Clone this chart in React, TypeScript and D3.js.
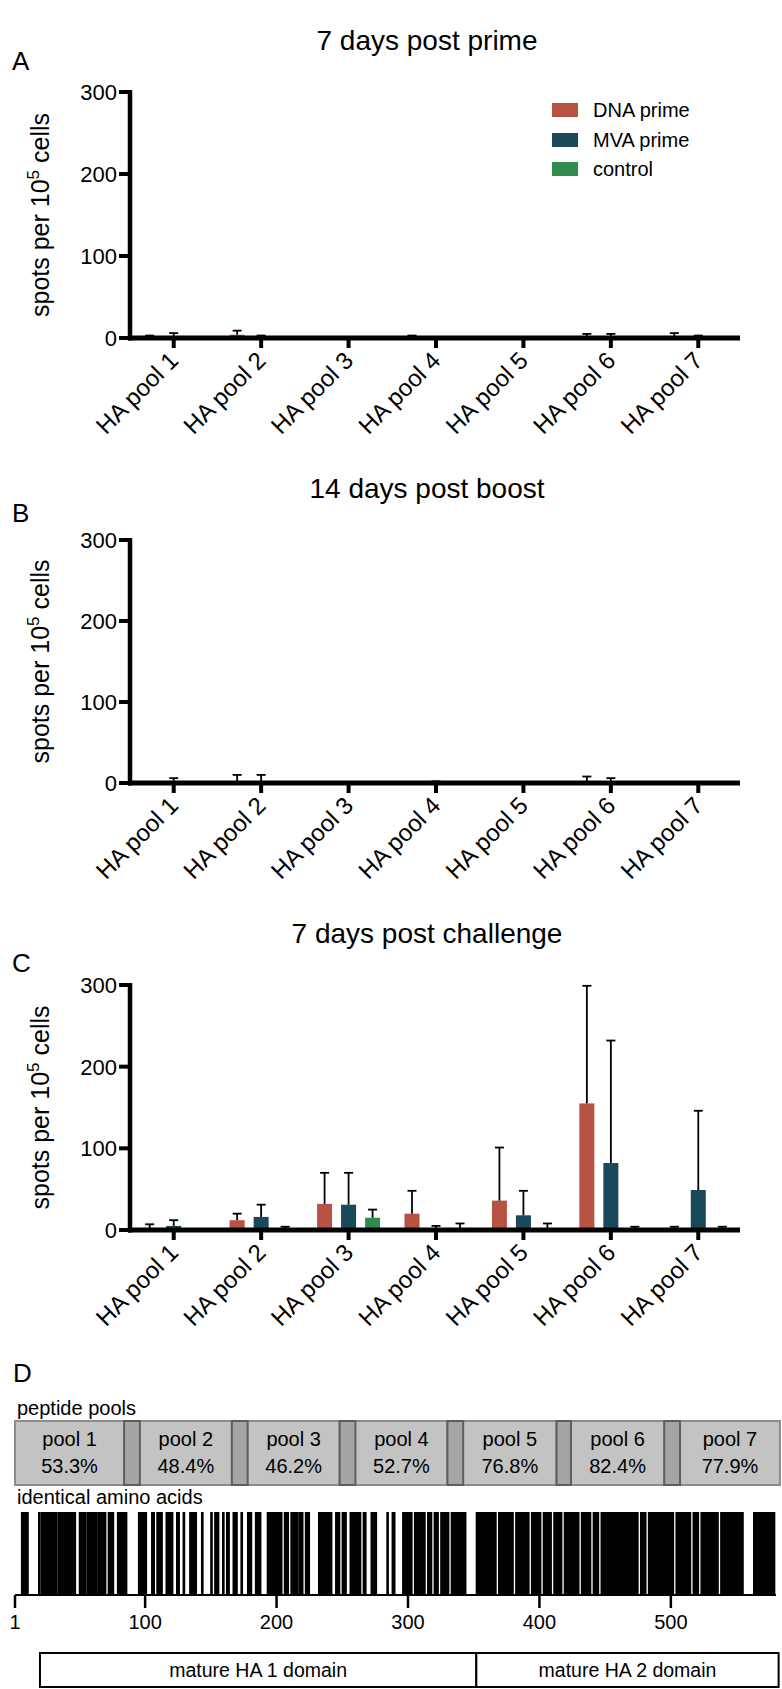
import React from 'react';
import * as d3 from 'd3';

// ---------- data ----------
const categories = ['HA pool 1', 'HA pool 2', 'HA pool 3', 'HA pool 4', 'HA pool 5', 'HA pool 6', 'HA pool 7'];
const seriesNames = ['DNA prime', 'MVA prime', 'control'];
const seriesColors = ['#B75343', '#1A4A5A', '#308C4E'];
const yTicks = [0, 100, 200, 300];

// A: 7 days post prime
const primeDNA = [1, 4, 0, 1, 0, 1, 1];
const primeDNAErr = [2, 5, 0, 2, 1, 4, 5];
const primeMVA = [1, 1, 0, 0, 0, 1, 0];
const primeMVAErr = [5, 2, 0, 1, 0, 4, 3];
const primeCtrl = [0, 0, 0, 0, 0, 0, 0];
const primeCtrlErr = [0, 0, 0, 0, 0, 0, 0];

// B: 14 days post boost
const boostDNA = [0, 2, 0, 0, 0, 1, 0];
const boostDNAErr = [0, 8, 0, 0, 0, 7, 0];
const boostMVA = [1, 0, 0, 1, 0, 0, 0];
const boostMVAErr = [5, 10, 0, 1, 0, 6, 0];
const boostCtrl = [0, 0, 0, 0, 0, 0, 0];
const boostCtrlErr = [0, 0, 0, 0, 0, 0, 0];

// C: 7 days post challenge
const challengeDNA = [1, 12, 32, 20, 36, 155, 0];
const challengeDNAErr = [6, 8, 38, 28, 65, 144, 4];
const challengeMVA = [5, 16, 31, 0, 18, 82, 49];
const challengeMVAErr = [7, 15, 39, 5, 30, 150, 97];
const challengeCtrl = [0, 0, 15, 0, 1, 0, 0];
const challengeCtrlErr = [0, 4, 10, 8, 7, 4, 4];

const panelTitles = ['7 days post prime', '14 days post boost', '7 days post challenge'];
const panelLetters = ['A', 'B', 'C'];

// D: peptide pools / identity
const poolLabels = ['pool 1', 'pool 2', 'pool 3', 'pool 4', 'pool 5', 'pool 6', 'pool 7'];
const poolIdentity = ['53.3%', '48.4%', '46.2%', '52.7%', '76.8%', '82.4%', '77.9%'];
const poolStart = [1, 84, 166, 248, 330, 413, 495];
const poolEnd = [96, 178, 260, 342, 424, 507, 583];
const aaTicks = [1, 100, 200, 300, 400, 500];
const domainNames = ['mature HA 1 domain', 'mature HA 2 domain'];
const domainStart = [20, 352];
const domainEnd = [352, 582];
const identicalRuns: [number, number][] = [
  [6, 11], [19, 20], [21, 33], [34, 37], [38, 47], [50, 55], [56, 63], [64, 70], [72, 76], [79, 86],
  [95, 101], [105, 107], [109, 113], [116, 121], [124, 126], [129, 130], [134, 139], [143, 144],
  [150, 151], [153, 156], [159, 160], [162, 164], [167, 170], [173, 174], [178, 181], [184, 188],
  [193, 204], [206, 209], [211, 216], [217, 220], [222, 225], [232, 242], [245, 248], [250, 253],
  [256, 264], [266, 268], [272, 276], [284, 285], [288, 290],
  [296, 303], [305, 313], [315, 318], [320, 323], [325, 331], [333, 344],
  [352, 367], [369, 380], [382, 392], [394, 401], [403, 409], [411, 417], [419, 430], [432, 439],
  [441, 445], [447, 475], [477, 481], [483, 502], [504, 515], [517, 521], [523, 536], [538, 555],
  [563, 579],
];

// ---------- layout ----------
const FONT = 'Liberation Sans, Arial, Helvetica, sans-serif';
const W = 782;
const H = 1689;
const panelGeom = [
  { top: 92, zero: 338, title: 50, letter: 70 },
  { top: 540, zero: 783, title: 498, letter: 522 },
  { top: 985, zero: 1230, title: 943, letter: 972 },
];

function BarPanel({ idx, means, errs }: { idx: number; means: number[][]; errs: number[][] }) {
  const g = panelGeom[idx];
  const y = d3.scaleLinear().domain([0, 300]).range([g.zero, g.top]);
  const x0 = d3.scaleBand<string>().domain(categories).range([130, 742]).padding(0);
  const x1 = d3.scaleBand<string>().domain(seriesNames).range([-31.5, 31.5]).paddingInner(0.375).paddingOuter(0);
  const bw = x1.bandwidth();
  const cx = (c: string) => (x0(c) as number) + x0.bandwidth() / 2;
  const midY = (g.top + g.zero) / 2;
  return (
    <g>
      <text x={427} y={g.title} fontSize={28} textAnchor="middle" fontFamily={FONT}>{panelTitles[idx]}</text>
      <text x={12} y={g.letter} fontSize={26} fontFamily={FONT}>{panelLetters[idx]}</text>
      {seriesNames.map((s, si) =>
        categories.map((c, ci) => {
          const v = means[si][ci];
          const xb = cx(c) + (x1(s) as number);
          return <rect key={`b${si}-${ci}`} x={xb} y={y(v)} width={bw} height={Math.max(0, g.zero - y(v))} fill={seriesColors[si]} />;
        })
      )}
      {seriesNames.map((s, si) =>
        categories.map((c, ci) => {
          const v = means[si][ci];
          const e = errs[si][ci];
          if (e <= 0) return null;
          const xm = cx(c) + (x1(s) as number) + bw / 2;
          return (
            <g key={`e${si}-${ci}`} stroke="#000" strokeWidth={1.8}>
              <line x1={xm} x2={xm} y1={y(v)} y2={y(v + e)} />
              <line x1={xm - 4.5} x2={xm + 4.5} y1={y(v + e)} y2={y(v + e)} />
            </g>
          );
        })
      )}
      <line x1={130} x2={130} y1={g.top - 2} y2={g.zero + 2.5} stroke="#000" strokeWidth={4.5} />
      {yTicks.map((t) => (
        <g key={`yt${t}`}>
          <line x1={119} x2={130} y1={y(t)} y2={y(t)} stroke="#000" strokeWidth={4} />
          <text x={117} y={y(t)} dy="0.36em" fontSize={22} textAnchor="end" fontFamily={FONT}>{t}</text>
        </g>
      ))}
      <text transform={`translate(49,${midY}) rotate(-90)`} fontSize={25} textAnchor="middle" fontFamily={FONT}>
        spots per 10<tspan dy={-10} fontSize={17}>5</tspan><tspan dy={10}> cells</tspan>
      </text>
      <line x1={128} x2={740} y1={g.zero} y2={g.zero} stroke="#000" strokeWidth={5} />
      {categories.map((c) => (
        <g key={`xt${c}`}>
          <line x1={cx(c)} x2={cx(c)} y1={g.zero} y2={g.zero + 10} stroke="#000" strokeWidth={4} />
          <text transform={`translate(${cx(c) + 6},${g.zero + 24}) rotate(-45)`} fontSize={24} textAnchor="end" fontFamily={FONT}>{c}</text>
        </g>
      ))}
    </g>
  );
}

function Legend() {
  const rows = [103, 133, 162];
  return (
    <g>
      {seriesNames.map((s, i) => (
        <g key={s}>
          <rect x={552} y={rows[i]} width={26} height={14} fill={seriesColors[i]} />
          <text x={593} y={rows[i] + 7} dy="0.36em" fontSize={20} fontFamily={FONT}>{s}</text>
        </g>
      ))}
    </g>
  );
}

function PanelD() {
  const xa = d3.scaleLinear().domain([1, 580]).range([15, 776]);
  const poolTop = 1421;
  const poolBot = 1485;
  const barTop = 1512;
  const barBot = 1595;
  const domTop = 1653;
  const domBot = 1687;
  return (
    <g fontFamily={FONT}>
      <text x={13} y={1382} fontSize={26}>D</text>
      <text x={17} y={1415} fontSize={20}>peptide pools</text>
      {poolLabels.map((p, i) => (
        <rect key={`p${i}`} x={xa(poolStart[i])} y={poolTop} width={xa(poolEnd[i]) - xa(poolStart[i])} height={poolBot - poolTop}
          fill="#c3c3c3" stroke="#8c8c8c" strokeWidth={2} />
      ))}
      {poolLabels.slice(0, -1).map((p, i) => (
        <rect key={`o${i}`} x={xa(poolStart[i + 1])} y={poolTop} width={xa(poolEnd[i]) - xa(poolStart[i + 1])} height={poolBot - poolTop}
          fill="#a5a5a5" stroke="#5e5e5e" strokeWidth={2} />
      ))}
      {poolLabels.map((p, i) => {
        const a = i === 0 ? poolStart[0] : poolEnd[i - 1];
        const b = i === poolLabels.length - 1 ? poolEnd[i] : poolStart[i + 1];
        const cx = (xa(a) + xa(b)) / 2;
        return (
          <g key={`pt${i}`}>
            <text x={cx} y={1446} fontSize={20} textAnchor="middle">{p}</text>
            <text x={cx} y={1473} fontSize={20} textAnchor="middle">{poolIdentity[i]}</text>
          </g>
        );
      })}
      <text x={17} y={1504} fontSize={20}>identical amino acids</text>
      {identicalRuns.map(([s, e], i) => (
        <rect key={`r${i}`} x={xa(s - 0.5)} y={barTop} width={xa(e + 0.5) - xa(s - 0.5)} height={barBot - barTop} fill="#000" />
      ))}
      <line x1={xa(1)} x2={xa(580)} y1={barBot} y2={barBot} stroke="#000" strokeWidth={2} />
      {aaTicks.map((t) => (
        <g key={`at${t}`}>
          <line x1={xa(t)} x2={xa(t)} y1={barBot} y2={barBot + 13} stroke="#000" strokeWidth={2.5} />
          <text x={xa(t)} y={1629} fontSize={20} textAnchor="middle">{t}</text>
        </g>
      ))}
      {domainNames.map((d, i) => (
        <g key={`d${i}`}>
          <rect x={xa(domainStart[i])} y={domTop} width={xa(domainEnd[i]) - xa(domainStart[i])} height={domBot - domTop}
            fill="#fff" stroke="#000" strokeWidth={2} />
          <text x={(xa(domainStart[i]) + xa(domainEnd[i])) / 2} y={1677} fontSize={19.5} textAnchor="middle">{d}</text>
        </g>
      ))}
    </g>
  );
}

export default function App() {
  return (
    <svg width={W} height={H} viewBox={`0 0 ${W} ${H}`} style={{ position: 'absolute', left: 0, top: 0, background: '#fff' }}>
      <rect x={0} y={0} width={W} height={H} fill="#fff" />
      <BarPanel idx={0} means={[primeDNA, primeMVA, primeCtrl]} errs={[primeDNAErr, primeMVAErr, primeCtrlErr]} />
      <Legend />
      <BarPanel idx={1} means={[boostDNA, boostMVA, boostCtrl]} errs={[boostDNAErr, boostMVAErr, boostCtrlErr]} />
      <BarPanel idx={2} means={[challengeDNA, challengeMVA, challengeCtrl]} errs={[challengeDNAErr, challengeMVAErr, challengeCtrlErr]} />
      <PanelD />
    </svg>
  );
}
